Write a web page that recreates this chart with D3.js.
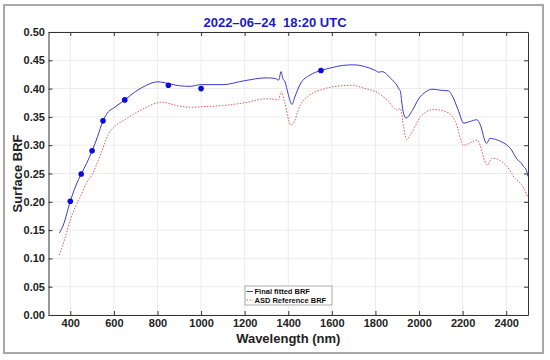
<!DOCTYPE html>
<html>
<head>
<meta charset="utf-8">
<script src="https://cdn.jsdelivr.net/npm/d3@7"></script>
<style>
  body { margin: 0; background: #fff; }
  svg text { font-family: "Liberation Sans", Arial, sans-serif; }
</style>
</head>
<body>
<svg id="chart" width="550" height="360"></svg>
<script>
// fitted BRF (blue solid)
const fitWl = [350, 368, 400, 425, 450, 475, 500, 525, 550, 575, 600, 650, 700, 750, 800, 850, 900, 950, 1000, 1100, 1200, 1300, 1340, 1356, 1367, 1375, 1385, 1400, 1417, 1430, 1455, 1500, 1550, 1600, 1650, 1700, 1750, 1800, 1815, 1830, 1870, 1900, 1910, 1915, 1920, 1930, 1940, 1970, 2000, 2030, 2060, 2100, 2135, 2150, 2180, 2205, 2235, 2265, 2280, 2310, 2325, 2360, 2400, 2420, 2450, 2470, 2480, 2490, 2500];
const fitBrf = [0.145, 0.159, 0.201, 0.228, 0.249, 0.268, 0.290, 0.315, 0.343, 0.359, 0.366, 0.380, 0.395, 0.406, 0.412, 0.409, 0.405, 0.404, 0.407, 0.407, 0.414, 0.419, 0.418, 0.415, 0.430, 0.418, 0.412, 0.390, 0.372, 0.385, 0.408, 0.424, 0.432, 0.437, 0.441, 0.442, 0.439, 0.432, 0.429, 0.430, 0.418, 0.405, 0.398, 0.395, 0.378, 0.355, 0.348, 0.362, 0.383, 0.394, 0.399, 0.397, 0.396, 0.389, 0.362, 0.339, 0.342, 0.345, 0.337, 0.303, 0.312, 0.309, 0.301, 0.294, 0.275, 0.268, 0.262, 0.258, 0.245];

// ASD reference BRF (red dotted)
const refWl = [350, 375, 400, 425, 450, 475, 500, 525, 550, 575, 600, 650, 700, 750, 800, 825, 850, 900, 950, 1000, 1100, 1200, 1300, 1340, 1356, 1367, 1385, 1411, 1420, 1455, 1500, 1560, 1640, 1695, 1745, 1808, 1854, 1900, 1914, 1929, 1943, 1960, 1990, 2006, 2067, 2136, 2167, 2205, 2267, 2313, 2336, 2405, 2435, 2481, 2500];
const refBrf = [0.106, 0.135, 0.168, 0.193, 0.212, 0.234, 0.248, 0.270, 0.295, 0.320, 0.332, 0.345, 0.357, 0.367, 0.375, 0.376, 0.374, 0.369, 0.367, 0.368, 0.370, 0.375, 0.382, 0.381, 0.380, 0.395, 0.374, 0.336, 0.337, 0.371, 0.389, 0.399, 0.405, 0.406, 0.401, 0.393, 0.380, 0.362, 0.365, 0.333, 0.310, 0.318, 0.339, 0.350, 0.363, 0.357, 0.342, 0.300, 0.309, 0.265, 0.277, 0.262, 0.244, 0.224, 0.207];

// band points (blue dots)
const bandWl = [400, 450, 500, 550, 650, 850, 1000, 1550];
const bandBrf = [0.201, 0.249, 0.290, 0.343, 0.380, 0.406, 0.400, 0.432];

const xTicks = [400, 600, 800, 1000, 1200, 1400, 1600, 1800, 2000, 2200, 2400];
const yTicks = [0, 0.05, 0.10, 0.15, 0.20, 0.25, 0.30, 0.35, 0.40, 0.45, 0.50];
const seriesNames = ["Final fitted BRF", "ASD Reference BRF"];
const titleText = "2022\u201306\u201324  18:20 UTC";

const svg = d3.select("#chart");
const margin = { left: 48.5, right: 22, top: 32, bottom: 45 };
const W = 550, H = 360;
const iw = W - margin.left - margin.right;
const ih = H - margin.top - margin.bottom;

// outer frame
svg.append("rect")
  .attr("x", 4).attr("y", 5).attr("width", 539).attr("height", 348)
  .attr("fill", "none").attr("stroke", "#a8a8a8").attr("stroke-width", 2);

const g = svg.append("g").attr("transform", `translate(${margin.left},${margin.top})`);

const x = d3.scaleLinear().domain([300, 2500]).range([0, iw]);
const y = d3.scaleLinear().domain([0, 0.5]).range([ih, 0]);

// grid
g.append("g").selectAll("line").data(xTicks).join("line")
  .attr("x1", d => x(d)).attr("x2", d => x(d)).attr("y1", 0).attr("y2", ih)
  .attr("stroke", "#ececec").attr("stroke-width", 1);
g.append("g").selectAll("line").data(yTicks).join("line")
  .attr("y1", d => y(d)).attr("y2", d => y(d)).attr("x1", 0).attr("x2", iw)
  .attr("stroke", "#ececec").attr("stroke-width", 1);

// axes, ticks inside
const styleAxis = sel => {
  sel.select(".domain").attr("stroke", "#333");
  sel.selectAll(".tick line").attr("stroke", "#333");
  sel.selectAll("text").attr("font-weight", "bold").attr("font-size", 11).attr("fill", "#222");
};
g.append("g").attr("transform", `translate(0,${ih})`)
  .call(d3.axisBottom(x).tickValues(xTicks).tickFormat(d3.format("d")).tickSizeInner(-4).tickSizeOuter(0).tickPadding(4))
  .call(styleAxis);
g.append("g")
  .call(d3.axisLeft(y).tickValues(yTicks).tickFormat(d3.format(".2f")).tickSizeInner(-4).tickSizeOuter(0).tickPadding(3.5))
  .call(styleAxis);
g.append("g")
  .call(d3.axisTop(x).tickValues(xTicks).tickSizeInner(-4).tickSizeOuter(0).tickFormat(""))
  .call(styleAxis);
g.append("g").attr("transform", `translate(${iw},0)`)
  .call(d3.axisRight(y).tickValues(yTicks).tickSizeInner(-4).tickSizeOuter(0).tickFormat(""))
  .call(styleAxis);

// lines
const line = d3.line().x(d => x(d[0])).y(d => y(d[1])).curve(d3.curveMonotoneX);
g.append("path").datum(refWl.map((w, i) => [w, refBrf[i]]))
  .attr("d", line).attr("fill", "none")
  .attr("stroke", "#e05a5a").attr("stroke-width", 1).attr("stroke-dasharray", "1.5,1.5");
g.append("path").datum(fitWl.map((w, i) => [w, fitBrf[i]]))
  .attr("d", line).attr("fill", "none")
  .attr("stroke", "#3a3ad0").attr("stroke-width", 1);

g.append("g").selectAll("circle").data(bandWl).join("circle")
  .attr("cx", d => x(d)).attr("cy", (d, i) => y(bandBrf[i])).attr("r", 2.8)
  .attr("fill", "#0b0be0");

// title & labels
svg.append("text").attr("x", 275).attr("y", 27).attr("text-anchor", "middle")
  .style("white-space", "pre")
  .attr("font-weight", "bold").attr("font-size", 13).attr("fill", "#1a1ac8").text(titleText);
svg.append("text").attr("x", margin.left + iw / 2).attr("y", 343).attr("text-anchor", "middle")
  .attr("font-weight", "bold").attr("font-size", 13).attr("fill", "#222").text("Wavelength (nm)");
svg.append("text").attr("transform", `translate(22,${margin.top + ih / 2}) rotate(-90)`)
  .attr("text-anchor", "middle").attr("font-weight", "bold").attr("font-size", 13).attr("fill", "#222")
  .text("Surface BRF");

// legend
const lg = svg.append("g").attr("transform", "translate(245,286)");
lg.append("rect").attr("width", 87).attr("height", 19)
  .attr("fill", "#fff").attr("stroke", "#999").attr("stroke-width", 0.8);
const legendStyles = [
  { stroke: "#3a3ad0", dash: null },
  { stroke: "#e05a5a", dash: "1.5,1.5" }
];
seriesNames.forEach((name, i) => {
  const yy = 5.5 + i * 8.5;
  lg.append("line").attr("x1", 1.5).attr("x2", 8).attr("y1", yy).attr("y2", yy)
    .attr("stroke", legendStyles[i].stroke).attr("stroke-dasharray", legendStyles[i].dash);
  lg.append("text").attr("x", 9.5).attr("y", yy + 2.6)
    .attr("font-size", 7.5).attr("font-weight", "bold").attr("fill", "#111").text(name);
});
</script>
</body>
</html>
